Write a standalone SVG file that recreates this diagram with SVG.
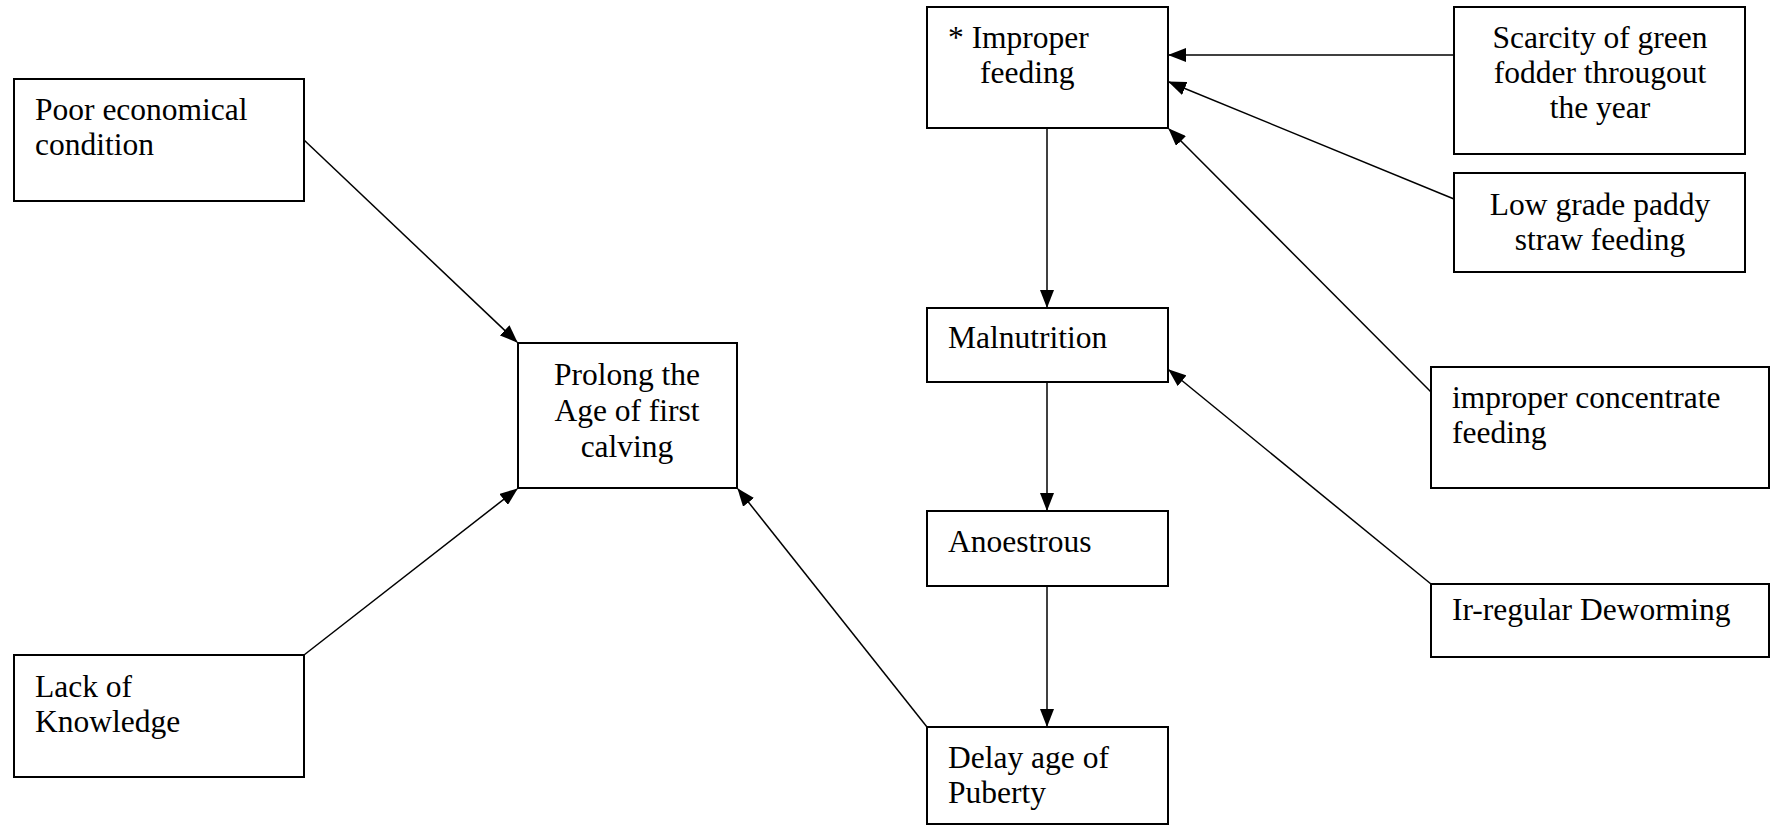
<svg xmlns="http://www.w3.org/2000/svg" width="1771" height="826" viewBox="0 0 1771 826">
<style>
.box{fill:#fff;stroke:#000;stroke-width:2}
.t{font-family:"Liberation Serif","Times New Roman",serif;font-size:31.5px;fill:#000}
.c{text-anchor:middle}
.edge{stroke:#000;stroke-width:1.5;fill:none}
</style>
<defs>
<marker id="ah" markerUnits="userSpaceOnUse" markerWidth="18" markerHeight="14" viewBox="0 0 18 14" refX="17" refY="7" orient="auto">
<path d="M0,0 L18,7 L0,14 Z" fill="#000"/>
</marker>
</defs>
<g id="connectors">
<line class="edge" x1="304" y1="140" x2="517" y2="342" marker-end="url(#ah)"/>
<line class="edge" x1="304" y1="655" x2="517" y2="489" marker-end="url(#ah)"/>
<line class="edge" x1="927" y1="727" x2="738" y2="489" marker-end="url(#ah)"/>
<line class="edge" x1="1047" y1="128" x2="1047" y2="307" marker-end="url(#ah)"/>
<line class="edge" x1="1047" y1="382" x2="1047" y2="510" marker-end="url(#ah)"/>
<line class="edge" x1="1047" y1="586" x2="1047" y2="726" marker-end="url(#ah)"/>
<line class="edge" x1="1454" y1="55" x2="1169" y2="55" marker-end="url(#ah)"/>
<line class="edge" x1="1454" y1="199" x2="1169" y2="82" marker-end="url(#ah)"/>
<line class="edge" x1="1431" y1="392" x2="1169" y2="129" marker-end="url(#ah)"/>
<line class="edge" x1="1431" y1="584" x2="1169" y2="370" marker-end="url(#ah)"/>
</g>
<g id="poor">
<rect class="box" x="14" y="79" width="290" height="122"/>
<text class="t" x="35" y="120">Poor economical</text>
<text class="t" x="35" y="155">condition</text>
</g>
<g id="lack">
<rect class="box" x="14" y="655" width="290" height="122"/>
<text class="t" x="35" y="697">Lack of</text>
<text class="t" x="35" y="732">Knowledge</text>
</g>
<g id="prolong">
<rect class="box" x="518" y="343" width="219" height="145"/>
<text class="t c" x="627" y="385">Prolong the</text>
<text class="t c" x="627" y="421">Age of first</text>
<text class="t c" x="627" y="457">calving</text>
</g>
<g id="improper">
<rect class="box" x="927" y="7" width="241" height="121"/>
<text class="t" x="948" y="48">* Improper</text>
<text class="t" x="980" y="83">feeding</text>
</g>
<g id="malnutrition">
<rect class="box" x="927" y="308" width="241" height="74"/>
<text class="t" x="948" y="348">Malnutrition</text>
</g>
<g id="anoestrous">
<rect class="box" x="927" y="511" width="241" height="75"/>
<text class="t" x="948" y="552">Anoestrous</text>
</g>
<g id="delay">
<rect class="box" x="927" y="727" width="241" height="97"/>
<text class="t" x="948" y="768">Delay age of</text>
<text class="t" x="948" y="803">Puberty</text>
</g>
<g id="scarcity">
<rect class="box" x="1454" y="7" width="291" height="147"/>
<text class="t c" x="1600" y="48">Scarcity of green</text>
<text class="t c" x="1600" y="83">fodder througout</text>
<text class="t c" x="1600" y="118">the year</text>
</g>
<g id="lowgrade">
<rect class="box" x="1454" y="173" width="291" height="99"/>
<text class="t c" x="1600" y="215">Low grade paddy</text>
<text class="t c" x="1600" y="250">straw feeding</text>
</g>
<g id="concentrate">
<rect class="box" x="1431" y="367" width="338" height="121"/>
<text class="t" x="1452" y="408">improper concentrate</text>
<text class="t" x="1452" y="443">feeding</text>
</g>
<g id="deworming">
<rect class="box" x="1431" y="584" width="338" height="73"/>
<text class="t" x="1452" y="620">Ir-regular Deworming</text>
</g>
</svg>
